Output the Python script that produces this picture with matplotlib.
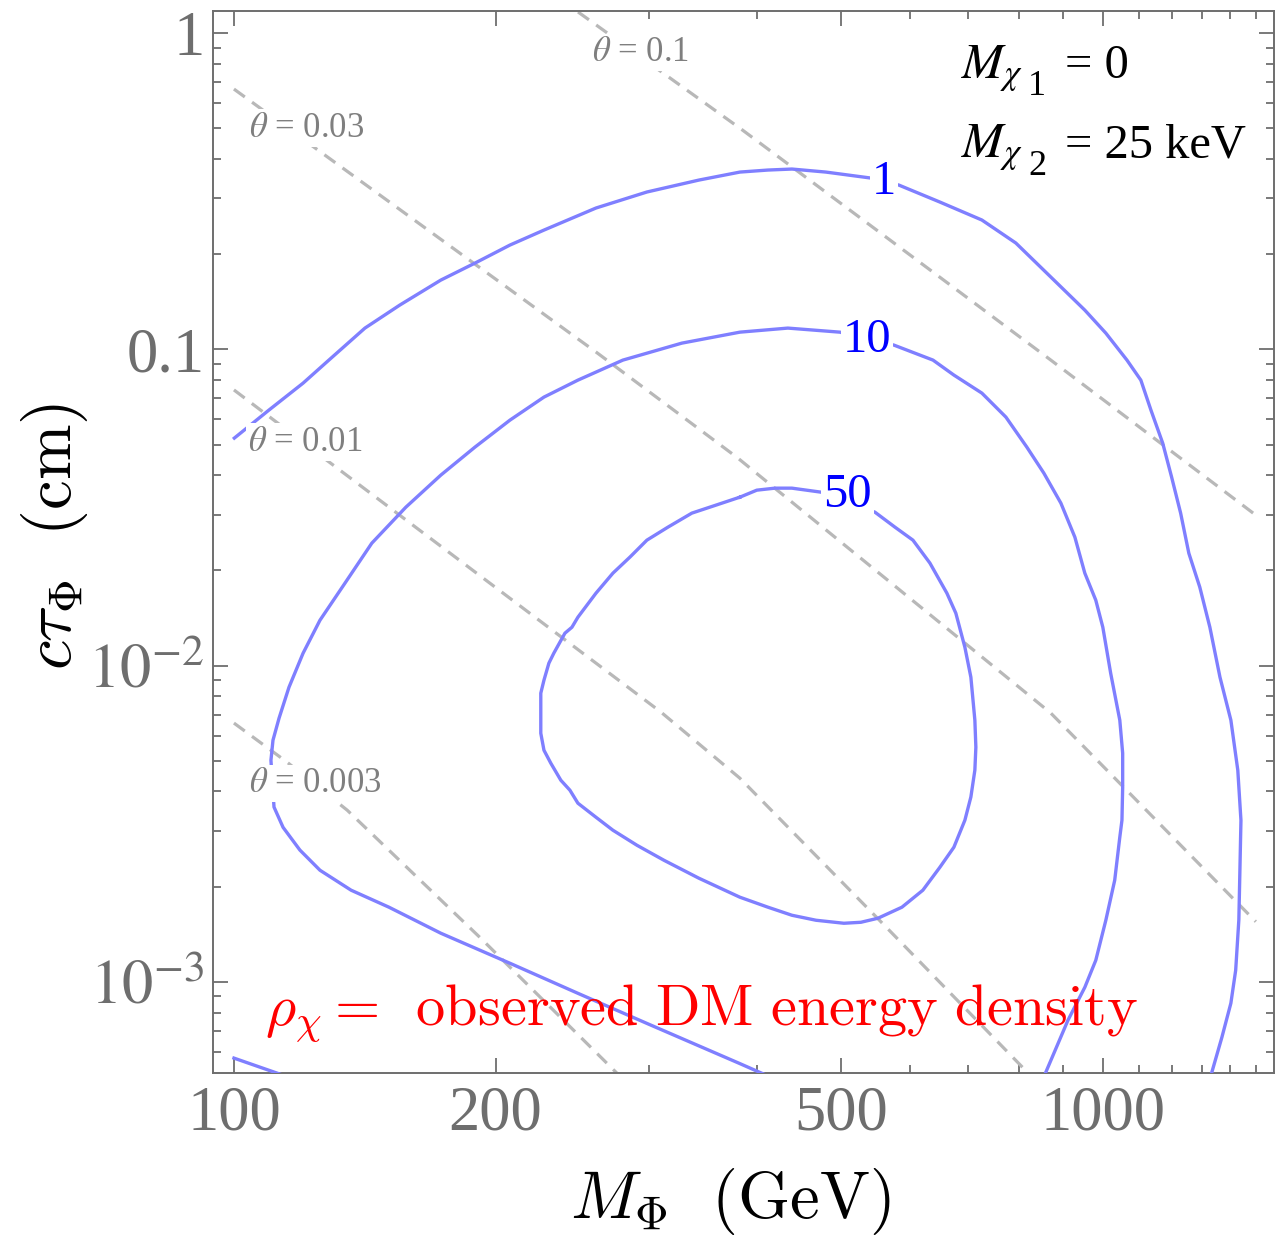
import matplotlib
matplotlib.use("Agg")
import matplotlib.pyplot as plt
import matplotlib.ticker as mticker

plt.rcParams['font.family'] = ['Liberation Serif', 'DejaVu Serif']
plt.rcParams['mathtext.fontset'] = 'stix'

# ---------- data (M in GeV, c*tau in cm) ----------
# relic-density contours, labelled 1 / 10 / 50
c1_M = [100.1, 109.7, 120.1, 128.6, 141.5, 155.2, 173.0, 189.4, 207.8, 227.4, 261.0,
        298.7, 342.8, 382.2, 411.7, 438.7, 480.0, 540.8, 582.4, 649.4, 725.8, 794.1,
        871.3, 953.4, 1008, 1066, 1106, 1136, 1172, 1200, 1229, 1256, 1293, 1328,
        1364, 1404, 1430, 1442, 1438, 1434, 1422, 1404, 1371, 1335, 1310]
c1_ct = [0.05239, 0.06423, 0.07816, 0.09244, 0.1167, 0.1380, 0.1655, 0.1873, 0.2136,
         0.2382, 0.2797, 0.3143, 0.3428, 0.3634, 0.3688, 0.3715, 0.3634, 0.3479,
         0.3306, 0.2921, 0.2563, 0.2168, 0.1692, 0.1330, 0.1125, 0.09244, 0.07989,
         0.06423, 0.05050, 0.03943, 0.03034, 0.02266, 0.01770, 0.01322, 9.19e-3,
         6.72e-3, 4.67e-3, 3.24e-3, 2.25e-3, 1.57e-3, 1.088e-3, 8.56e-4, 6.68e-4,
         5.18e-4, 4.54e-4]
c1_low_M = [100, 112, 119]
c1_low_ct = [5.74e-4, 5.15e-4, 4.86e-4]

c10_M = [846.2, 859.8, 911.7, 953.4, 981.5, 1008, 1032, 1046, 1052, 1054, 1054, 1046,
         1021, 1000, 981.5, 953.4, 928.6, 894.8, 855.3, 817.6, 773.5, 725.8, 673.9,
         637.6, 574.9, 498.2, 434.0, 382.2, 327.7, 280.3, 248.8, 227.4, 207.8, 189.4,
         173.0, 157.7, 144.1, 134.2, 125.6, 120.1, 115.7, 112.7, 110.9, 110.3, 111.2,
         113.9, 119.1, 125.6, 136.4, 150.8, 173.0, 207.8, 248.8, 298.7, 381.3, 425]
c10_ct = [4.68e-4, 5.18e-4, 7.56e-4, 9.61e-4, 1.170e-3, 1.566e-3, 2.096e-3, 2.866e-3,
          3.244e-3, 4.125e-3, 5.284e-3, 6.72e-3, 9.46e-3, 0.01322, 0.01610, 0.01960,
          0.02547, 0.03263, 0.04060, 0.04906, 0.06104, 0.07269, 0.08289, 0.09244,
          0.1031, 0.1133, 0.1167, 0.1133, 0.1046, 0.09244, 0.07989, 0.07061, 0.05971,
          0.04906, 0.04001, 0.03168, 0.02438, 0.01822, 0.01391, 0.01094, 8.54e-3,
          6.82e-3, 5.81e-3, 5.02e-3, 3.57e-3, 3.08e-3, 2.61e-3, 2.254e-3, 1.949e-3,
          1.722e-3, 1.425e-3, 1.145e-3, 9.20e-4, 7.39e-4, 5.53e-4, 4.85e-4]

c50_M = [382.2, 399.7, 419.3, 438.7, 473.7, 546.7, 576.5, 604.6, 632.4, 661.5, 677.4,
         693.8, 704.9, 712.4, 714.3, 712.4, 704.9, 693.8, 673.9, 649.4, 620.7, 587.2,
         551.0, 526.7, 503.5, 467.6, 438.7, 411.7, 382.2, 342.8, 312.5, 290.9, 273.0,
         261.0, 248.8, 243.6, 237.8, 231.6, 227.4, 225.5, 225.5, 225.5, 227.4, 230.4,
         233.4, 240.4, 244.9, 248.8, 261.0, 273.0, 285.6, 298.7, 315.8, 336.5, 358.6,
         382.2]
c50_ct = [0.03408, 0.03586, 0.03639, 0.03639, 0.03535, 0.03055, 0.02739, 0.02492,
          0.02109, 0.01694, 0.01464, 0.01143, 9.19e-3, 6.72e-3, 5.52e-3, 4.67e-3,
          3.84e-3, 3.244e-3, 2.665e-3, 2.304e-3, 1.949e-3, 1.722e-3, 1.589e-3,
          1.543e-3, 1.532e-3, 1.566e-3, 1.624e-3, 1.722e-3, 1.852e-3, 2.127e-3,
          2.424e-3, 2.704e-3, 3.016e-3, 3.315e-3, 3.672e-3, 4.036e-3, 4.34e-3,
          4.91e-3, 5.40e-3, 6.11e-3, 6.82e-3, 8.18e-3, 8.99e-3, 0.01018, 0.01094,
          0.01266, 0.01322, 0.01422, 0.01694, 0.01960, 0.02203, 0.02492, 0.02739,
          0.03034, 0.03215, 0.03408]

contour_labels = ['1', '10', '50']
contour_label_M = [560, 535, 508]
contour_label_ct = [0.337, 0.107, 0.0346]

# constant-mixing lines
th01_M = [230, 248, 385, 604, 871, 1500]
th01_ct = [1.36, 1.174, 0.493, 0.196, 0.0925, 0.0299]
th003_M = [100, 124, 262, 379, 871, 1500]
th003_ct = [0.665, 0.433, 0.0973, 0.0456, 7.08e-3, 1.55e-3]
th001_M = [100, 130, 310, 382, 554, 818, 846]
th001_ct = [0.0744, 0.0431, 7.13e-3, 4.41e-3, 1.56e-3, 5.19e-4, 4.69e-4]
th0003_M = [100, 115, 135, 192, 275, 282]
th0003_ct = [6.58e-3, 4.96e-3, 3.49e-3, 1.38e-3, 5.19e-4, 4.84e-4]

theta_labels = [r'$\theta$ = 0.1', r'$\theta$ = 0.03', r'$\theta$ = 0.01', r'$\theta$ = 0.003']
theta_label_M = [294, 121.3, 120.7, 124]
theta_label_ct = [0.870, 0.5006, 0.0509, 4.25e-3]

x_major = [100, 200, 500, 1000]
x_major_labels = ['100', '200', '500', '1000']
x_minor = [300, 400, 600, 700, 800, 900, 1100, 1200, 1300, 1400, 1500]
y_major = [1e-3, 1e-2, 0.1, 1]
y_major_labels = [r'$10^{-3}$', r'$10^{-2}$', '0.1', '1']

blue = '#7f7fff'
grey_line = '#b8b8b8'
axis_grey = '#6e6e6e'

fig = plt.figure(figsize=(12.79, 12.36), dpi=100)
ax = fig.add_axes([213 / 1279, 1 - 1073 / 1236, 1061 / 1279, 1062 / 1236])
ax.set_xscale('log')
ax.set_yscale('log')
ax.set_xlim(94.6, 1574)
ax.set_ylim(5.15e-4, 1.174)

# dashed theta lines
for xs, ys in [(th01_M, th01_ct), (th003_M, th003_ct),
               (th001_M, th001_ct), (th0003_M, th0003_ct)]:
    ax.plot(xs, ys, color=grey_line, lw=2.3, dashes=(4.2, 2.8), zorder=2)

# contours
for xs, ys in [(c1_M, c1_ct), (c1_low_M, c1_low_ct), (c10_M, c10_ct), (c50_M, c50_ct)]:
    ax.plot(xs, ys, color=blue, lw=2.4, zorder=3, solid_joinstyle='round')

for lab, xm, yc in zip(contour_labels, contour_label_M, contour_label_ct):
    ax.text(xm, yc, lab, color='#0000ff', fontsize=35, ha='center', va='center',
            zorder=5, bbox=dict(facecolor='white', edgecolor='none', pad=1.5))

for lab, xm, yc in zip(theta_labels, theta_label_M, theta_label_ct):
    ax.text(xm, yc, lab, color='#7f7f7f', fontsize=25, ha='center', va='center',
            zorder=5, bbox=dict(facecolor='white', edgecolor='none', pad=1.5))

# annotations (subscript index drawn at near full size, as in the reference)
for row_y, idx_y, idx, rhs in [(0.937, 0.921, '1', '= 0'), (0.8625, 0.8456, '2', '= 25 keV')]:
    ax.text(0.705, row_y, r'$M_{\chi}$', transform=ax.transAxes, fontsize=36,
            ha='left', va='baseline')
    ax.text(0.7682, idx_y, idx, transform=ax.transAxes, fontsize=26,
            ha='left', va='baseline')
    ax.text(0.803, row_y, rhs, transform=ax.transAxes, fontsize=35,
            ha='left', va='baseline')

ax.text(0.049, 0.045, r'$\rho_\chi =\ \,\mathrm{observed\ DM\ energy\ density}$',
        transform=ax.transAxes, fontsize=42, color='red', ha='left', va='baseline',
        math_fontfamily='cm')

# axes styling
ax.xaxis.set_major_locator(mticker.FixedLocator(x_major))
ax.xaxis.set_major_formatter(mticker.FixedFormatter(x_major_labels))
ax.xaxis.set_minor_locator(mticker.FixedLocator(x_minor))
ax.xaxis.set_minor_formatter(mticker.NullFormatter())
ax.yaxis.set_major_locator(mticker.FixedLocator(y_major))
ax.yaxis.set_major_formatter(mticker.FixedFormatter(y_major_labels))
ax.yaxis.set_minor_locator(mticker.LogLocator(base=10, subs=range(2, 10)))
ax.yaxis.set_minor_formatter(mticker.NullFormatter())

ax.tick_params(which='both', direction='in', top=True, right=True,
               color=axis_grey, width=1.3, labelcolor=axis_grey, labelsize=45)
ax.tick_params(which='major', length=11)
ax.tick_params(which='minor', length=5.5)
ax.tick_params(axis='x', which='major', pad=9)
ax.tick_params(axis='y', which='major', pad=6)
for s in ax.spines.values():
    s.set_color(axis_grey)
    s.set_linewidth(1.4)

ax.set_xlabel(r'$M_\Phi\ \ (\mathrm{GeV})$', fontsize=48, math_fontfamily='cm', va='top')
ax.xaxis.set_label_coords(0.488, -0.088)
ax.set_ylabel(r'$c\tau_\Phi\ \ (\mathrm{cm})$', fontsize=48, math_fontfamily='cm')
ax.yaxis.set_label_coords(-0.116, 0.505)

fig.savefig('out.png', dpi=100)
